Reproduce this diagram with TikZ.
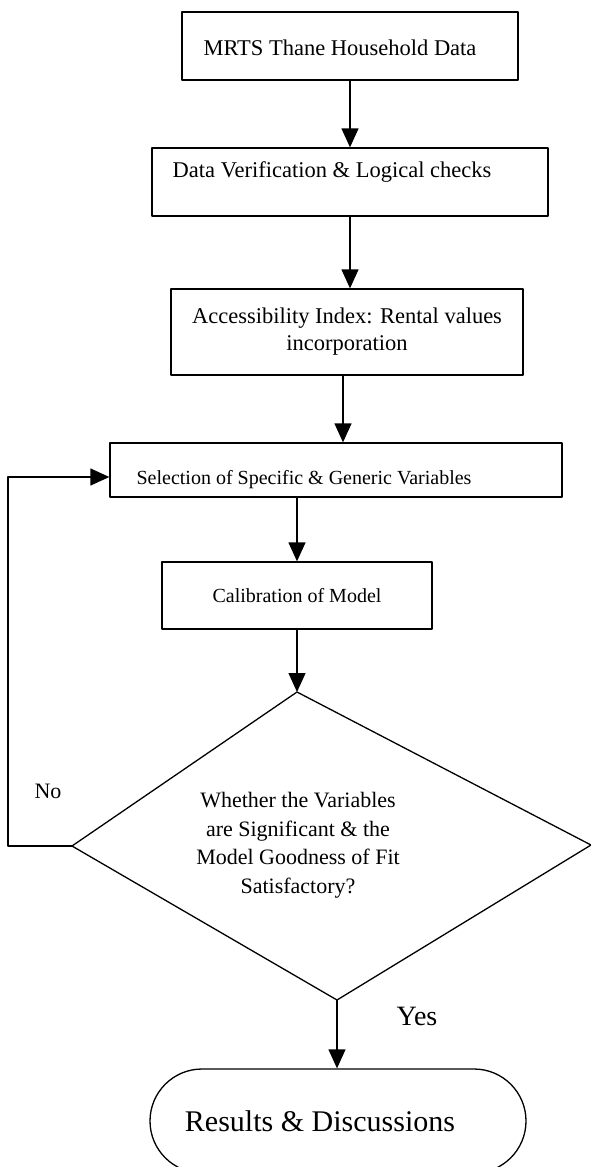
\documentclass[tikz,border=0pt]{standalone}
\usepackage{fontspec}
\setmainfont{Liberation Serif}
\usetikzlibrary{arrows.meta}

\begin{document}
\begin{tikzpicture}[x=1pt, y=-1pt, line join=round,
    font=\fontsize{22.5}{27}\selectfont,
    box/.style={draw, line width=1.3pt, inner sep=0pt},
    conn/.style={line width=1.3pt, -{Triangle[width=17pt,length=19pt]}},
    lbl/.style={align=center, inner sep=0pt}]
    \useasboundingbox (0,0) rectangle (591,1167);
    % process boxes
    \node[box, minimum width=336pt, minimum height=68pt,
      label={[lbl, xshift=-10pt, yshift=-2pt]center:MRTS Thane Household Data}] (house) at (350,46) {};
    \node[box, minimum width=396pt, minimum height=68pt,
      label={[lbl, xshift=-18pt, yshift=10pt]center:Data Verification \& Logical checks}] (verify) at (350,182) {};
    \node[box, minimum width=352pt, minimum height=86pt,
      label={[lbl]center:Accessibility Index: Rental values\\incorporation}] (access) at (347,332) {};
    \node[box, minimum width=452pt, minimum height=54pt,
      label={[lbl, font=\fontsize{20}{24}\selectfont, xshift=-32pt, yshift=-10pt]center:Selection of Specific \& Generic Variables}] (select) at (336,470) {};
    \node[box, minimum width=270pt, minimum height=67pt,
      label={[lbl, font=\fontsize{20}{24}\selectfont]center:Calibration of Model}] (calib) at (297,595.5) {};
    % decision
    \coordinate (dtop) at (297,692);
    \coordinate (dleft) at (72,846);
    \coordinate (dright) at (591,845);
    \coordinate (dbot) at (337,1000);
    \draw[line width=1.3pt] (dtop) -- (dright) -- (dbot) -- (dleft) -- cycle;
    \node[lbl, font=\fontsize{22}{28.5}\selectfont] (check) at (298,845)
      {Whether the Variables\\are Significant \& the\\Model Goodness of Fit\\Satisfactory?};
    % end
    \node[box, rounded corners=52pt, minimum width=376pt, minimum height=104pt,
      label={[lbl, font=\fontsize{30}{36}\selectfont, xshift=-18pt]center:Results \& Discussions}] (results) at (338,1121) {};
    \node[font=\fontsize{22}{26}\selectfont] (no) at (48,791) {No};
    \node[font=\fontsize{28}{32}\selectfont] (yes) at (417,1016) {Yes};
    % connectors
    \coordinate (back) at (8,477);
    \draw[conn] (house) -- (verify);
    \draw[conn] (verify.south) -- (verify.south |- access.north);
    \draw[conn] ([xshift=-4pt]access.south) -- ([xshift=-4pt]access.south |- select.north);
    \draw[conn] (calib.north |- select.south) -- (calib.north);
    \draw[conn] (calib.south) -- (dtop);
    \draw[conn] (dbot) -- (dbot |- results.north);
    \draw[conn] (dleft) -| (back) -- (back -| select.west);
\end{tikzpicture}
\end{document}
